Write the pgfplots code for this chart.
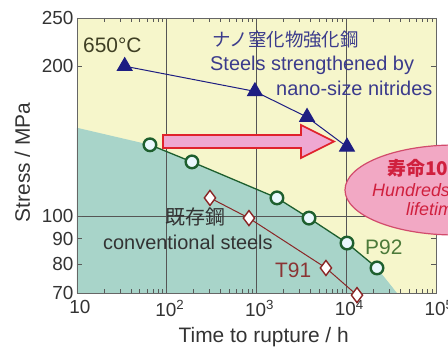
\documentclass[border=0pt]{standalone}
\usepackage{pgfplots}
\pgfplotsset{compat=1.18}
\usepackage{fontspec}
\setmainfont{Liberation Sans}
\newfontfamily\cjk{Noto Sans CJK JP}
\definecolor{bgy}{HTML}{F6F6CB}
\definecolor{tealbg}{HTML}{A8D4C9}
\definecolor{navy}{HTML}{1E1E82}
\definecolor{pgreen}{HTML}{1E5F2E}
\definecolor{tred}{HTML}{8A2626}
\definecolor{ellfill}{HTML}{F2A8C4}
\definecolor{ellline}{HTML}{D24B6C}
\definecolor{arrfill}{HTML}{EFA8D2}
\definecolor{arrline}{HTML}{E0222C}
\definecolor{txtgray}{HTML}{333333}
\definecolor{olive}{HTML}{3F3F24}
\definecolor{nitblue}{HTML}{3B3B8C}
\definecolor{p92txt}{HTML}{4C7A3A}
\definecolor{t91txt}{HTML}{8A3434}
\definecolor{redtxt}{HTML}{D0203E}
\definecolor{gridc}{HTML}{555555}
\begin{document}
\begin{tikzpicture}
\begin{axis}[
  axis on top,
  scale only axis, width=359bp, height=275bp,
  at={(0,0)}, anchor=south west,
  xmode=log, ymode=log,
  xmin=10, xmax=100000, ymin=70, ymax=250,
  axis background/.style={fill=bgy},
  axis line style={draw=gray!80!black, line width=0.6bp},
  xtick={10,100,1000,10000,100000},
  xticklabels={10,10\textsuperscript{2},10\textsuperscript{3},10\textsuperscript{4},10\textsuperscript{5}},
  minor xtick={20,30,40,50,60,70,80,90,200,300,400,500,600,700,800,900,2000,3000,4000,5000,6000,7000,8000,9000,20000,30000,40000,50000,60000,70000,80000,90000},
  ytick={70,80,90,100,200,250},
  yticklabels={70,80,90,100,200,250},
  yminorticks=false,
  major tick length=5bp, minor tick length=4bp,
  tick style={draw=gray!70!black, line width=0.6bp},
  ticklabel style={font=\fontsize{19}{22}\selectfont, text=txtgray},
  xticklabel style={yshift=-4bp, xshift=3bp},
  xlabel={Time to rupture / h},
  ylabel={Stress / MPa},
  label style={font=\fontsize{21}{24}\selectfont, text=txtgray},
  xlabel style={at={(axis description cs:0.52,0)}, anchor=north, yshift=-31bp},
  ylabel style={yshift=5bp, xshift=-7bp},
  clip=false,
]
\addplot[fill=tealbg, draw=none] coordinates {
  (10,70) (10,150.4) (65,139) (191,128.4) (1690,108.7) (3846,99) (10190,88.2) (22000,78.6) (36700,70) (10,70)
};
% grid lines
\draw[gridc, line width=0.7bp] (100,70) -- (100,250);
\draw[gridc, line width=0.7bp] (1000,70) -- (1000,250);
\draw[gridc, line width=0.7bp] (10000,70) -- (10000,250);
\draw[gridc, line width=0.7bp] (10,100) -- (100000,100);
% nitride steels
\addplot[navy, line width=1bp, mark=triangle*, mark size=8.5bp, mark options={fill=navy, draw=navy}]
  coordinates {(34,200) (960,178) (3656,158) (10190,137.7)};
% P92
\addplot[pgreen, line width=1.3bp, mark=*, mark size=6.3bp, mark options={fill=white!92!cyan, draw=pgreen, line width=2.4bp}]
  coordinates {(65,139) (191,128.4) (1690,108.7) (3846,99) (10190,88.2) (22000,78.6)};
% T91
\addplot[tred, line width=1bp, mark=diamond*, mark size=7.5bp, mark options={fill=white, draw=tred, line width=1.4bp}]
  coordinates {(303,108.7) (824,99) (5940,78.6) (13180,69.3)};
\end{axis}
\begin{scope}[x=1bp, y=-1bp, shift={(-77bp,293bp)}]
  % arrow
  \draw[arrline, line width=1.6bp, fill=arrfill]
    (163,135) -- (301,135) -- (301,125) -- (334,141.5) -- (301,158) -- (301,148) -- (163,148) -- cycle;
  \begin{scope}
  \clip (0,0) rectangle (448,349);
  % ellipse
  \draw[ellline, line width=1.2bp, fill=ellfill] (455,190) ellipse [x radius=110, y radius=45];
  \node[anchor=west, inner sep=0, text=redtxt, font=\fontsize{19}{22}\selectfont\bfseries] at (387,168) {\cjk 寿命10万時間};
  \node[anchor=west, inner sep=0, text=redtxt, font=\fontsize{18}{21}\selectfont\itshape] at (372,190) {Hundreds of thousands};
  \node[anchor=west, inner sep=0, text=redtxt, font=\fontsize{18}{21}\selectfont\itshape] at (406,209) {lifetime};
  \end{scope}
  % texts
  \node[anchor=west, inner sep=0, text=olive, font=\fontsize{21}{24}\selectfont] at (83,45) {650°C};
  \node[anchor=west, inner sep=0, text=nitblue, font=\fontsize{18.5}{22}\selectfont\cjk] at (212,40) {ナノ窒化物強化鋼};
  \node[anchor=west, inner sep=0, text=nitblue, font=\fontsize{20}{24}\selectfont] at (210,65) {Steels strengthened by};
  \node[anchor=west, inner sep=0, text=nitblue, font=\fontsize{20}{24}\selectfont] at (276,88) {nano-size nitrides};
  \node[anchor=west, inner sep=0, text=txtgray, font=\fontsize{20}{24}\selectfont\cjk] at (165,217) {既存鋼};
  \node[anchor=west, inner sep=0, text=txtgray, font=\fontsize{20}{24}\selectfont] at (103,242) {conventional steels};
  \node[anchor=west, inner sep=0, text=p92txt, font=\fontsize{21}{24}\selectfont] at (365,247) {P92};
  \node[anchor=west, inner sep=0, text=t91txt, font=\fontsize{21}{24}\selectfont] at (275,270) {T91};
\end{scope}
\pgfresetboundingbox
\path[use as bounding box] (-77bp,-56bp) rectangle (371bp,293bp);
\end{tikzpicture}
\end{document}
